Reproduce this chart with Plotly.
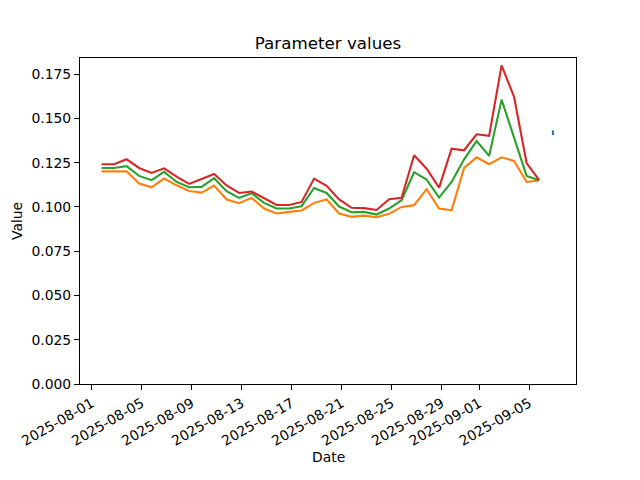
import plotly.graph_objects as go

dates = [
    "2025-08-01 19:00", "2025-08-02 19:00", "2025-08-03 19:00", "2025-08-04 19:00",
    "2025-08-05 19:00", "2025-08-06 19:00", "2025-08-07 19:00", "2025-08-08 19:00",
    "2025-08-09 19:00", "2025-08-10 19:00", "2025-08-11 19:00", "2025-08-12 19:00",
    "2025-08-13 19:00", "2025-08-14 19:00", "2025-08-15 19:00", "2025-08-16 19:00",
    "2025-08-17 19:00", "2025-08-18 19:00", "2025-08-19 19:00", "2025-08-20 19:00",
    "2025-08-21 19:00", "2025-08-22 19:00", "2025-08-23 19:00", "2025-08-24 19:00",
    "2025-08-25 19:00", "2025-08-26 19:00", "2025-08-27 19:00", "2025-08-28 19:00",
    "2025-08-29 19:00", "2025-08-30 19:00", "2025-08-31 19:00", "2025-09-01 19:00",
    "2025-09-02 19:00", "2025-09-03 19:00", "2025-09-04 19:00", "2025-09-05 19:00",
]

orange_vals = [
    0.1201, 0.1201, 0.1201, 0.1132, 0.1111, 0.1160, 0.1122, 0.1090, 0.1081, 0.1121,
    0.1042, 0.1021, 0.1051, 0.0991, 0.0963, 0.0972, 0.0980, 0.1023, 0.1042, 0.0963,
    0.0944, 0.0951, 0.0942, 0.0961, 0.1000, 0.1010, 0.1100, 0.0991, 0.0981, 0.1220,
    0.1280, 0.1241, 0.1280, 0.1260, 0.1141, 0.1149,
]
green_vals = [
    0.1220, 0.1220, 0.1230, 0.1175, 0.1151, 0.1198, 0.1141, 0.1111, 0.1113, 0.1162,
    0.1089, 0.1051, 0.1077, 0.1023, 0.0991, 0.0991, 0.1004, 0.1107, 0.1079, 0.1002,
    0.0970, 0.0972, 0.0957, 0.0991, 0.1038, 0.1196, 0.1154, 0.1053, 0.1141, 0.1269,
    0.1372, 0.1288, 0.1606, 0.1386, 0.1175, 0.1151,
]
red_vals = [
    0.1241, 0.1241, 0.1269, 0.1220, 0.1192, 0.1218, 0.1171, 0.1130, 0.1158, 0.1186,
    0.1121, 0.1079, 0.1087, 0.1051, 0.1011, 0.1011, 0.1028, 0.1160, 0.1119, 0.1042,
    0.0995, 0.0993, 0.0983, 0.1043, 0.1051, 0.1292, 0.1216, 0.1109, 0.1329, 0.1320,
    0.1410, 0.1401, 0.1799, 0.1621, 0.1248, 0.1151,
]
blue_dates = ["2025-09-06 21:30", "2025-09-06 21:30"]
blue_vals = [0.1406, 0.1432]

tick_dates = ["2025-08-01", "2025-08-05", "2025-08-09", "2025-08-13", "2025-08-17",
              "2025-08-21", "2025-08-25", "2025-08-29", "2025-09-01", "2025-09-05"]
y_ticks = [0.0, 0.025, 0.05, 0.075, 0.1, 0.125, 0.15, 0.175]

FONT = "DejaVu Sans"
FS = 13.9
fig = go.Figure()
fig.add_trace(go.Scatter(x=blue_dates, y=blue_vals, mode="lines",
                         line=dict(color="#1f77b4", width=2.1)))
fig.add_trace(go.Scatter(x=dates, y=orange_vals, mode="lines",
                         line=dict(color="#ff7f0e", width=2.1)))
fig.add_trace(go.Scatter(x=dates, y=green_vals, mode="lines",
                         line=dict(color="#2ca02c", width=2.1)))
fig.add_trace(go.Scatter(x=dates, y=red_vals, mode="lines",
                         line=dict(color="#d62728", width=2.1)))

fig.update_layout(
    width=640, height=480,
    margin=dict(l=80, r=64, t=58, b=96, autoexpand=False),
    paper_bgcolor="white", plot_bgcolor="white",
    showlegend=False,
    font=dict(family=FONT, size=FS, color="black"),
    title=dict(text="Parameter values", x=0.5, xref="paper", xanchor="center",
               y=1 - 43 / 480, yref="container", yanchor="middle",
               font=dict(family=FONT, size=16.7, color="black")),
    xaxis=dict(
        type="date", automargin=False,
        range=["2025-07-31 01:32", "2025-09-08 17:51"],
        tickvals=tick_dates, ticktext=tick_dates,
        tickangle=-30, tickfont=dict(family=FONT, size=FS),
        ticks="outside", ticklen=5, tickwidth=1.1, tickcolor="black",
        showline=True, linecolor="black", linewidth=1.1, mirror=True,
        showgrid=False, zeroline=False,
    ),
    yaxis=dict(
        automargin=False,
        range=[0, 0.1841],
        tickvals=y_ticks, tickformat=".3f", tickfont=dict(family=FONT, size=FS),
        ticks="outside", ticklen=5, tickwidth=1.1, tickcolor="black",
        showline=True, linecolor="black", linewidth=1.1, mirror=True,
        showgrid=False, zeroline=False,
    ),
    annotations=[
        dict(text="Date", xref="paper", x=0.5, yref="paper", y=-(457 - 384) / 326,
             xanchor="center", yanchor="middle", showarrow=False,
             font=dict(family=FONT, size=FS, color="black")),
        dict(text="Value", xref="paper", x=-(80 - 17) / 496, yref="paper", y=0.5,
             xanchor="center", yanchor="middle", showarrow=False, textangle=-90,
             font=dict(family=FONT, size=FS, color="black")),
    ],
)

fig.write_html("out.html", config={"displayModeBar": False},
               post_script="document.body.style.margin='0';")
